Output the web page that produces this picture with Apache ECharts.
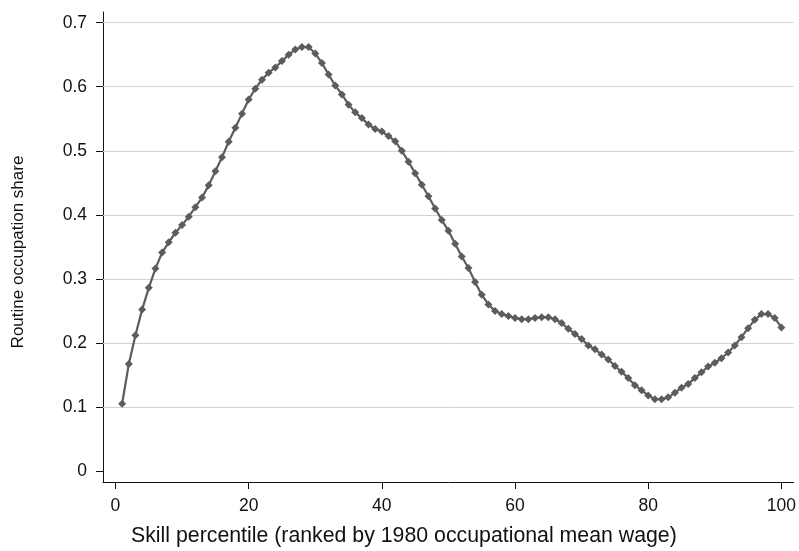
<!DOCTYPE html>
<html>
<head>
<meta charset="utf-8">
<script src="https://cdn.jsdelivr.net/npm/echarts@6/dist/echarts.min.js"></script>
<style>
  html, body { margin: 0; padding: 0; background: #fff; }
  #chart { width: 799px; height: 551px; }
</style>
</head>
<body>
<div id="chart"></div>
<script>
// skill percentile 1..100
const percentiles = Array.from({ length: 100 }, (_, i) => i + 1)

// routine occupation share
const routineShare = [
  0.105, 0.167, 0.212, 0.252, 0.286, 0.316, 0.341, 0.357, 0.372, 0.384,
  0.397, 0.412, 0.427, 0.446, 0.468, 0.490, 0.514, 0.536, 0.558, 0.580,
  0.597, 0.611, 0.622, 0.630, 0.640, 0.650, 0.658, 0.662, 0.662, 0.652,
  0.637, 0.619, 0.602, 0.588, 0.572, 0.560, 0.551, 0.541, 0.534, 0.530,
  0.523, 0.515, 0.500, 0.483, 0.465, 0.447, 0.429, 0.410, 0.392, 0.375,
  0.355, 0.335, 0.317, 0.295, 0.275, 0.260, 0.250, 0.245, 0.242, 0.239,
  0.237, 0.237, 0.239, 0.240, 0.240, 0.237, 0.231, 0.222, 0.214, 0.206,
  0.196, 0.190, 0.182, 0.174, 0.164, 0.155, 0.145, 0.134, 0.126, 0.118,
  0.112, 0.112, 0.115, 0.122, 0.130, 0.136, 0.145, 0.154, 0.163, 0.169,
  0.176, 0.185, 0.196, 0.209, 0.223, 0.236, 0.245, 0.245, 0.239, 0.224
]

const xTicks = [0, 20, 40, 60, 80, 100]
const yTicks = [0, 0.1, 0.2, 0.3, 0.4, 0.5, 0.6, 0.7]
const yGridLines = [0.1, 0.2, 0.3, 0.4, 0.5, 0.6, 0.7]

const xTitle = 'Skill percentile (ranked by 1980 occupational mean wage)'
const yTitle = 'Routine occupation share'

const FONT = '"Liberation Sans", Arial, Helvetica, sans-serif'
const LINE = '#5c5c5c'

const chart = echarts.init(document.getElementById('chart'), null, { renderer: 'canvas' })

chart.setOption({
  animation: false,
  backgroundColor: '#fff',
  textStyle: { fontFamily: FONT },
  title: {
    text: xTitle,
    left: 131,
    top: 526,
    padding: 0,
    textStyle: { fontFamily: FONT, fontSize: 21.3, fontWeight: 'normal', color: '#111' }
  },
  graphic: [
    {
      type: 'text',
      x: 18,
      y: 252,
      rotation: Math.PI / 2,
      style: {
        text: yTitle,
        font: '17px ' + FONT,
        fill: '#111',
        align: 'center',
        verticalAlign: 'middle'
      }
    }
  ],
  grid: { left: 103, right: 4, top: 12, bottom: 69 },
  xAxis: {
    type: 'value',
    min: -1.874,
    max: 101.84,
    axisLine: { show: true, onZero: false, lineStyle: { color: '#111', width: 1 } },
    axisTick: { show: true, length: 7, customValues: xTicks, lineStyle: { color: '#111' } },
    axisLabel: { customValues: xTicks, margin: 15, fontSize: 17.5, color: '#111', fontFamily: FONT },
    splitLine: { show: false }
  },
  yAxis: {
    type: 'value',
    min: -0.0172,
    max: 0.7167,
    axisLine: { show: true, onZero: false, lineStyle: { color: '#111', width: 1 } },
    axisTick: { show: true, length: 7, customValues: yTicks, lineStyle: { color: '#111' } },
    axisLabel: { customValues: yTicks, margin: 16, fontSize: 17.5, color: '#111', fontFamily: FONT },
    splitLine: { show: false }
  },
  series: [
    {
      type: 'line',
      data: percentiles.map((p, i) => [p, routineShare[i]]),
      symbol: 'diamond',
      symbolSize: 8,
      showSymbol: true,
      itemStyle: { color: LINE },
      lineStyle: { color: LINE, width: 2.2 },
      z: 3,
      markLine: {
        silent: true,
        symbol: ['none', 'none'],
        label: { show: false },
        lineStyle: { color: '#d2d2d2', width: 1, type: 'solid' },
        z: 1,
        data: yGridLines.map(v => ({ yAxis: v }))
      }
    }
  ]
})
</script>
</body>
</html>
